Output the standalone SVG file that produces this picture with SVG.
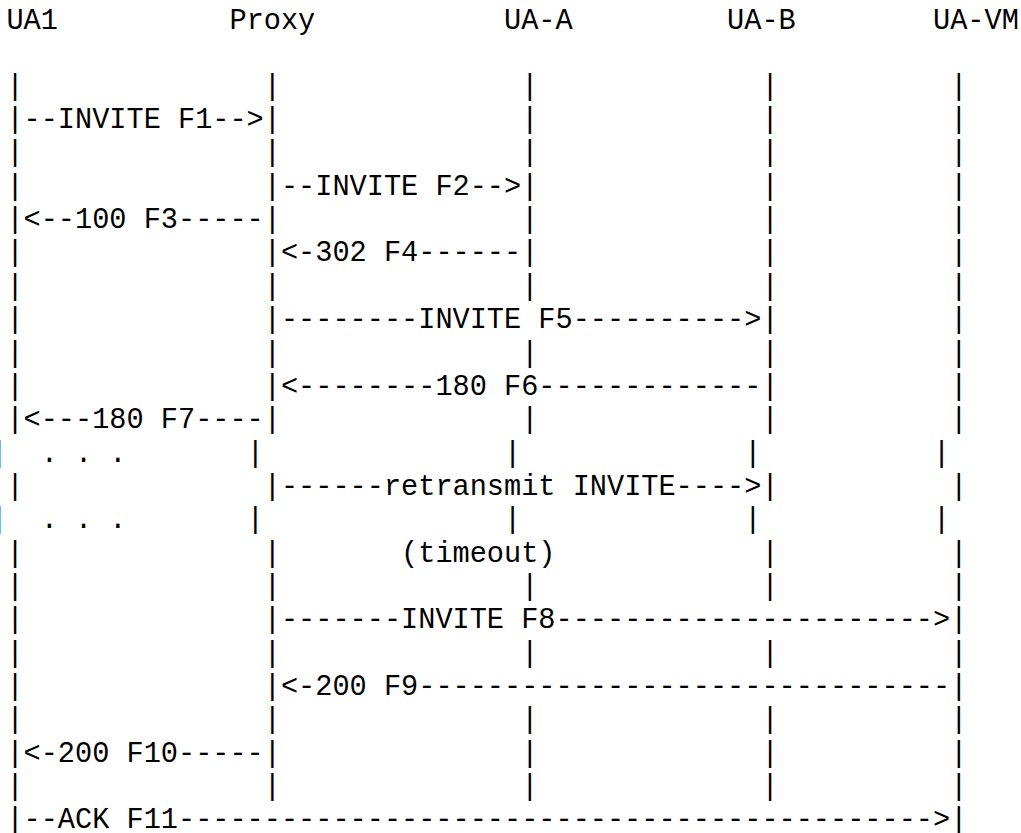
<svg xmlns="http://www.w3.org/2000/svg" width="1021" height="833" viewBox="0 0 1021 833">
<style>
.t{font-family:"Liberation Mono","Courier New",monospace;font-size:28.6px;fill:#000}
</style>
<rect x="0" y="0" width="1021" height="833" fill="#fff"/>
<g id="node-UA1">
<text class="t" x="6.4" y="29">UA1</text>
<text class="t"><tspan x="6.4" y="94.7">|</tspan><tspan x="6.4" y="128.05">|</tspan><tspan x="6.4" y="161.4">|</tspan><tspan x="6.4" y="194.75">|</tspan><tspan x="6.4" y="228.1">|</tspan><tspan x="6.4" y="261.45">|</tspan><tspan x="6.4" y="294.8">|</tspan><tspan x="6.4" y="328.15">|</tspan><tspan x="6.4" y="361.5">|</tspan><tspan x="6.4" y="394.85">|</tspan><tspan x="6.4" y="428.2">|</tspan><tspan x="-9.6" y="461.55">|</tspan><tspan x="6.4" y="494.9">|</tspan><tspan x="-9.6" y="528.25">|</tspan><tspan x="6.4" y="561.6">|</tspan><tspan x="6.4" y="594.95">|</tspan><tspan x="6.4" y="628.3">|</tspan><tspan x="6.4" y="661.65">|</tspan><tspan x="6.4" y="695">|</tspan><tspan x="6.4" y="728.35">|</tspan><tspan x="6.4" y="761.7">|</tspan><tspan x="6.4" y="795.05">|</tspan><tspan x="6.4" y="828.4">|</tspan></text>
</g>
<g id="node-Proxy">
<text class="t" x="229.48" y="29">Proxy</text>
<text class="t"><tspan x="263.8" y="94.7">|</tspan><tspan x="263.8" y="128.05">|</tspan><tspan x="263.8" y="161.4">|</tspan><tspan x="263.8" y="194.75">|</tspan><tspan x="263.8" y="228.1">|</tspan><tspan x="263.8" y="261.45">|</tspan><tspan x="263.8" y="294.8">|</tspan><tspan x="263.8" y="328.15">|</tspan><tspan x="263.8" y="361.5">|</tspan><tspan x="263.8" y="394.85">|</tspan><tspan x="263.8" y="428.2">|</tspan><tspan x="246.64" y="461.55">|</tspan><tspan x="263.8" y="494.9">|</tspan><tspan x="246.64" y="528.25">|</tspan><tspan x="263.8" y="561.6">|</tspan><tspan x="263.8" y="594.95">|</tspan><tspan x="263.8" y="628.3">|</tspan><tspan x="263.8" y="661.65">|</tspan><tspan x="263.8" y="695">|</tspan><tspan x="263.8" y="728.35">|</tspan><tspan x="263.8" y="761.7">|</tspan><tspan x="263.8" y="795.05">|</tspan></text>
</g>
<g id="node-UA-A">
<text class="t" x="504.04" y="29">UA-A</text>
<text class="t"><tspan x="521.2" y="94.7">|</tspan><tspan x="521.2" y="128.05">|</tspan><tspan x="521.2" y="161.4">|</tspan><tspan x="521.2" y="194.75">|</tspan><tspan x="521.2" y="228.1">|</tspan><tspan x="521.2" y="261.45">|</tspan><tspan x="521.2" y="294.8">|</tspan><tspan x="521.2" y="361.5">|</tspan><tspan x="521.2" y="428.2">|</tspan><tspan x="504.04" y="461.55">|</tspan><tspan x="504.04" y="528.25">|</tspan><tspan x="521.2" y="594.95">|</tspan><tspan x="521.2" y="661.65">|</tspan><tspan x="521.2" y="728.35">|</tspan><tspan x="521.2" y="761.7">|</tspan><tspan x="521.2" y="795.05">|</tspan></text>
</g>
<g id="node-UA-B">
<text class="t" x="727.12" y="29">UA-B</text>
<text class="t"><tspan x="761.44" y="94.7">|</tspan><tspan x="761.44" y="128.05">|</tspan><tspan x="761.44" y="161.4">|</tspan><tspan x="761.44" y="194.75">|</tspan><tspan x="761.44" y="228.1">|</tspan><tspan x="761.44" y="261.45">|</tspan><tspan x="761.44" y="294.8">|</tspan><tspan x="761.44" y="328.15">|</tspan><tspan x="761.44" y="361.5">|</tspan><tspan x="761.44" y="394.85">|</tspan><tspan x="761.44" y="428.2">|</tspan><tspan x="744.28" y="461.55">|</tspan><tspan x="761.44" y="494.9">|</tspan><tspan x="744.28" y="528.25">|</tspan><tspan x="761.44" y="561.6">|</tspan><tspan x="761.44" y="594.95">|</tspan><tspan x="761.44" y="661.65">|</tspan><tspan x="761.44" y="728.35">|</tspan><tspan x="761.44" y="761.7">|</tspan><tspan x="761.44" y="795.05">|</tspan></text>
</g>
<g id="node-UA-VM">
<text class="t" x="933.04" y="29">UA-VM</text>
<text class="t"><tspan x="950.2" y="94.7">|</tspan><tspan x="950.2" y="128.05">|</tspan><tspan x="950.2" y="161.4">|</tspan><tspan x="950.2" y="194.75">|</tspan><tspan x="950.2" y="228.1">|</tspan><tspan x="950.2" y="261.45">|</tspan><tspan x="950.2" y="294.8">|</tspan><tspan x="950.2" y="328.15">|</tspan><tspan x="950.2" y="361.5">|</tspan><tspan x="950.2" y="394.85">|</tspan><tspan x="950.2" y="428.2">|</tspan><tspan x="933.04" y="461.55">|</tspan><tspan x="950.2" y="494.9">|</tspan><tspan x="933.04" y="528.25">|</tspan><tspan x="950.2" y="561.6">|</tspan><tspan x="950.2" y="594.95">|</tspan><tspan x="950.2" y="628.3">|</tspan><tspan x="950.2" y="661.65">|</tspan><tspan x="950.2" y="695">|</tspan><tspan x="950.2" y="728.35">|</tspan><tspan x="950.2" y="761.7">|</tspan><tspan x="950.2" y="795.05">|</tspan><tspan x="950.2" y="828.4">|</tspan></text>
</g>
<g id="connectors">
<text class="t" x="23.56" y="128.05">--INVITE F1--&gt;</text>
<text class="t" x="280.96" y="194.75">--INVITE F2--&gt;</text>
<text class="t" x="23.56" y="228.1">&lt;--100 F3-----</text>
<text class="t" x="280.96" y="261.45">&lt;-302 F4------</text>
<text class="t" x="280.96" y="328.15">--------INVITE F5----------&gt;</text>
<text class="t" x="280.96" y="394.85">&lt;--------180 F6-------------</text>
<text class="t" x="23.56" y="428.2">&lt;---180 F7----</text>
<text class="t" x="40.72" y="461.55">. . .</text>
<text class="t" x="280.96" y="494.9">------retransmit INVITE----&gt;</text>
<text class="t" x="40.72" y="528.25">. . .</text>
<text class="t" x="401.08" y="561.6">(timeout)</text>
<text class="t" x="280.96" y="628.3">-------INVITE F8----------------------&gt;</text>
<text class="t" x="280.96" y="695">&lt;-200 F9-------------------------------</text>
<text class="t" x="23.56" y="761.7">&lt;-200 F10-----</text>
<text class="t" x="23.56" y="828.4">--ACK F11--------------------------------------------&gt;</text>
</g>
</svg>
